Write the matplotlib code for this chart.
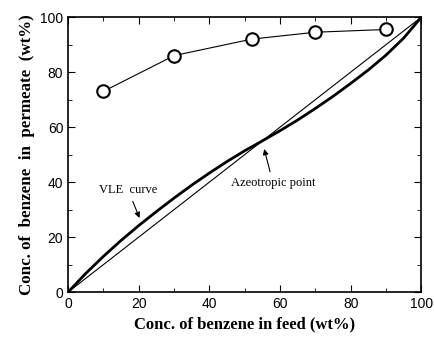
import numpy as np
import matplotlib
matplotlib.use('Agg')
import matplotlib.pyplot as plt
from matplotlib.ticker import MultipleLocator

plt.rcParams['font.family'] = ['Liberation Serif', 'DejaVu Serif']

# permeate data (open circles)
feed = [10, 30, 52, 70, 90]
permeate = [73, 86, 92, 94.5, 95.5]

# VLE curve
vle_x = [0, 5, 10, 15, 20, 25, 30, 35, 40, 45, 50, 55, 60, 65, 70, 75, 80, 85, 90, 95, 100]
vle_y = [0, 6.8, 13, 18.8, 24.2, 29.3, 34.2, 38.9, 43.3, 47.5, 51.4, 55.0, 58.7, 62.6, 66.8, 71.2, 75.9, 80.8, 86.2, 92.4, 100]

# diagonal
diag = [0, 100]

fig = plt.figure(figsize=(4.34, 3.42), dpi=100)
ax = fig.add_axes([0.157, 0.146, 0.814, 0.804])

ax.plot(diag, diag, color='black', lw=0.8)
ax.plot(vle_x, vle_y, color='black', lw=2.0)
ax.plot(feed, permeate, color='black', lw=0.8, marker='o', ms=9,
        mfc='white', mec='black', mew=1.5)

arrow = dict(arrowstyle='-|>', color='black', lw=0.8, mutation_scale=8)
ax.annotate('VLE  curve', xy=(20.5, 26), xytext=(17, 36),
            fontsize=9, ha='center', arrowprops=arrow)
ax.annotate('Azeotropic point', xy=(55.3, 53), xytext=(58, 38.5),
            fontsize=9, ha='center', arrowprops=arrow)

ax.set_xlim(0, 100)
ax.set_ylim(0, 100)
ax.xaxis.set_major_locator(MultipleLocator(20))
ax.xaxis.set_minor_locator(MultipleLocator(10))
ax.yaxis.set_major_locator(MultipleLocator(20))
ax.yaxis.set_minor_locator(MultipleLocator(10))
ax.tick_params(which='both', direction='in', top=True, right=True, labelsize=10)
ax.tick_params(which='major', length=5)
ax.tick_params(which='minor', length=3)
for lab in ax.get_xticklabels() + ax.get_yticklabels():
    lab.set_family(['Liberation Sans Narrow', 'Liberation Sans'])
for s in ax.spines.values():
    s.set_linewidth(1.2)

ax.set_xlabel('Conc. of benzene in feed (wt%)', fontsize=12, fontweight='bold')
ax.set_ylabel('Conc. of  benzene  in  permeate  (wt%)', fontsize=12.2, fontweight='bold')

fig.savefig('out.png', dpi=100)
